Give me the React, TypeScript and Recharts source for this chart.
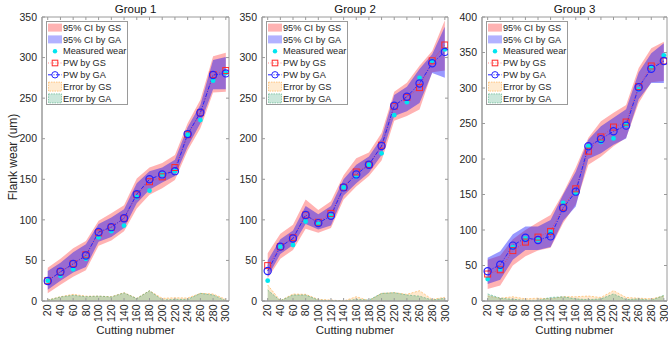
import React from 'react';
import { ComposedChart, Area, Line, XAxis, YAxis, Legend, ReferenceArea } from 'recharts';

const cuttingNumber = [20, 40, 60, 80, 100, 120, 140, 160, 180, 200, 220, 240, 260, 280, 300];
const yTicksG12 = [0, 50, 100, 150, 200, 250, 300, 350];
const yTicksG3 = [0, 50, 100, 150, 200, 250, 300, 350, 400];
const groupTitles = ['Group 1', 'Group 2', 'Group 3'];
const legendLabels = ['95% CI by GS', '95% CI by GA', 'Measured wear', 'PW by GS', 'PW by GA', 'Error by GS', 'Error by GA'];

// Group 1
const g1Measured = [25, 31, 39, 52, 78.5, 86, 93, 128, 136, 156, 160, 205, 223, 271.5, 281];
const g1PwGS = [25, 36, 46, 57, 84, 91, 102, 131, 147, 153, 164.5, 205, 232, 279, 284];
const g1PwGA = [24.7, 36, 45.7, 56, 85, 91, 102, 131.6, 150, 156, 160, 205.7, 232, 278.5, 280.5];
const g1CiGSUpper = [41, 52, 65, 74, 99, 108, 118, 151, 164.5, 170, 180, 219, 248, 301.5, 306];
const g1CiGSLower = [9.5, 20, 30, 38, 68, 74.5, 86, 114, 131, 139, 149, 185.5, 213, 257, 258];
const g1CiGAUpper = [37, 47, 60, 70, 95, 103, 113, 145, 160, 164.5, 174, 214, 242, 297, 300.7];
const g1CiGALower = [14, 25, 35, 42, 73, 79, 90, 120.5, 137, 146, 154, 190, 219, 261, 261];
const g1ErrGS = [1.2, 5.3, 8.2, 6, 6, 5.3, 10.3, 3.3, 12.7, 3.3, 4, 3.7, 9.4, 8.6, 2];
const g1ErrGA = [1, 5, 7, 5.3, 6, 5, 10, 3, 12.7, 1.2, 2, 2, 9.4, 7.4, 0.4];

// Group 2
const g2Measured = [25, 67, 69, 98, 95, 105, 140, 153, 168, 182, 229, 245, 275, 296, 310];
const g2PwGS = [43.6, 67, 78, 106, 97, 108, 140, 159, 168, 192, 240, 251, 263, 296, 315.5];
const g2PwGA = [37, 67, 77, 106, 96, 105, 140, 156, 168, 191, 240.7, 251.8, 268, 293, 307];
const g2CiGSUpper = [59, 83, 94, 125, 112, 123, 155, 176, 183, 207, 258, 269, 290, 308, 346];
const g2CiGSLower = [28, 52, 63, 89, 84, 90, 125, 141, 154, 173, 222, 228, 236, 282, 284];
const g2CiGAUpper = [50, 76, 87, 117, 107, 117, 150, 168, 178, 201, 254, 264, 286, 304, 338];
const g2CiGALower = [30, 58, 69, 95, 88, 93, 130, 145, 158, 180, 228, 234, 244, 281, 275];
const g2ErrGS = [19.7, 0.4, 8.6, 8.2, 2, 1.2, 0, 5.3, 0.4, 9.4, 10.3, 8.2, 12.7, 2, 4.5];
const g2ErrGA = [13.5, 0.4, 7.4, 7.4, 1.2, 0.4, 0, 2, 1.2, 9.4, 10.3, 7.4, 6, 1.2, 3.3];

// Group 3
const g3Measured = [31, 45, 76, 88, 86, 97, 138, 152, 218, 224, 229, 248, 298, 328, 346];
const g3PwGS = [38, 44, 71, 83, 90, 98, 132, 158, 211, 231, 245, 252, 302, 331, 338];
const g3PwGA = [42, 51, 78, 89, 86, 91, 131, 154, 218, 228, 239, 247, 301, 327, 338];
const g3CiGSUpper = [58, 64, 87, 100, 111, 121, 152, 188, 230, 253, 265, 276, 328, 356, 365];
const g3CiGSLower = [17, 22, 50, 63, 71, 75, 110, 136, 192, 203, 218, 230, 279, 308, 310];
const g3CiGAUpper = [61, 70, 94, 105, 105, 114, 150, 182, 227, 246, 258, 270, 322, 349, 363];
const g3CiGALower = [24, 30, 58, 72, 72, 76, 113, 133, 200, 208, 220, 229, 284, 307, 307];
const g3ErrGS = [7, 4, 6, 3, 4, 3, 6, 6, 7, 5, 14.6, 5, 4, 3, 7];
const g3ErrGA = [10, 4, 2.4, 1, 1, 5, 6, 3, 2, 3, 10, 2, 3, 1, 8];

const FONT = '"Liberation Sans", Arial, Helvetica, sans-serif';
const AXIS = '#9a9a9a';
const TEXT = '#262626';

const C_GS_CI = '#ff0000';
const C_GA_CI = '#0000ff';
const C_ERR_GS = '#ff9a1f';
const C_ERR_GA = '#2e9e6e';
const C_MEAS = '#00e6f0';
const C_PW_GS = '#ff2a2a';
const C_PW_GA = '#2424ff';

const PLOT_TOP = 17;
const PLOT_BOTTOM = 301;
const PLOT_LEFT = 42;
const CHART_H = 341;
const X_DOMAIN: [number, number] = [11, 305];

function buildRows(meas, pwGS, pwGA, gsU, gsL, gaU, gaL, eGS, eGA) {
  return cuttingNumber.map((c, i) => ({
    cut: c,
    ciGS: [gsL[i], gsU[i]],
    ciGA: [gaL[i], gaU[i]],
    measured: meas[i],
    pwGS: pwGS[i],
    pwGA: pwGA[i],
    errGS: eGS[i],
    errGA: eGA[i],
  }));
}

const panels = [
  {
    title: groupTitles[0], offset: 0, plotW: 187, yMax: 350, yTicks: yTicksG12, showYLabel: true,
    rows: buildRows(g1Measured, g1PwGS, g1PwGA, g1CiGSUpper, g1CiGSLower, g1CiGAUpper, g1CiGALower, g1ErrGS, g1ErrGA),
  },
  {
    title: groupTitles[1], offset: 220, plotW: 186, yMax: 350, yTicks: yTicksG12, showYLabel: false,
    rows: buildRows(g2Measured, g2PwGS, g2PwGA, g2CiGSUpper, g2CiGSLower, g2CiGAUpper, g2CiGALower, g2ErrGS, g2ErrGA),
  },
  {
    title: groupTitles[2], offset: 440, plotW: 185, yMax: 400, yTicks: yTicksG3, showYLabel: false,
    rows: buildRows(g3Measured, g3PwGS, g3PwGA, g3CiGSUpper, g3CiGSLower, g3CiGAUpper, g3CiGALower, g3ErrGS, g3ErrGA),
  },
];

function LegendBox() {
  const w = 82;
  const h = 84;
  const rowY = (i: number) => 6.6 + i * 11.8;
  const ix0 = 2;
  const ix1 = 16;
  const icx = (ix0 + ix1) / 2;
  return (
    <svg width={w} height={h} style={{ display: 'block', overflow: 'visible' }}>
      <rect x={0.5} y={0.5} width={w - 1} height={h - 1} fill="#ffffff" stroke={AXIS} strokeWidth={1} />
      <rect x={ix0} y={rowY(0) - 4} width={ix1 - ix0} height={8} fill={C_GS_CI} fillOpacity={0.3} />
      <rect x={ix0} y={rowY(1) - 4} width={ix1 - ix0} height={8} fill={C_GA_CI} fillOpacity={0.3} />
      <circle cx={icx} cy={rowY(2)} r={2.2} fill={C_MEAS} />
      <line x1={ix0} x2={ix1} y1={rowY(3)} y2={rowY(3)} stroke={C_PW_GS} strokeOpacity={0.55} strokeDasharray="1 1.5" />
      <rect x={icx - 2.8} y={rowY(3) - 2.8} width={5.6} height={5.6} fill="none" stroke={C_PW_GS} strokeWidth={1} />
      <line x1={ix0} x2={ix1} y1={rowY(4)} y2={rowY(4)} stroke={C_PW_GA} strokeDasharray="4 1.5 1 1.5" />
      <circle cx={icx} cy={rowY(4)} r={3.2} fill="none" stroke={C_PW_GA} strokeWidth={1} />
      <rect x={ix0 + 0.5} y={rowY(5) - 4.5} width={ix1 - ix0 - 1} height={9} fill={C_ERR_GS} fillOpacity={0.2} stroke={C_ERR_GS} strokeOpacity={0.7} strokeWidth={0.7} strokeDasharray="1.5 1" />
      <rect x={ix0 + 0.5} y={rowY(6) - 4.5} width={ix1 - ix0 - 1} height={9} fill={C_ERR_GA} fillOpacity={0.25} stroke={C_ERR_GA} strokeOpacity={0.7} strokeWidth={0.7} strokeDasharray="1.5 1" />
      {legendLabels.map((t, i) => (
        <text key={t} x={17} y={rowY(i)} dy="0.35em" fontSize={9.2} fontWeight={400} fontFamily={FONT} fill={TEXT}>
          {t}
        </text>
      ))}
    </svg>
  );
}

function Panel({ p }) {
  const plotRight = PLOT_LEFT + p.plotW;
  const chartW = plotRight + 3;
  const centerX = PLOT_LEFT + p.plotW / 2;

  const yTick = (props) => {
    const y = props.y;
    return (
      <g>
        <line x1={PLOT_LEFT} x2={PLOT_LEFT + 3} y1={y} y2={y} stroke={AXIS} />
        <line x1={plotRight - 3} x2={plotRight} y1={y} y2={y} stroke={AXIS} />
        <text x={PLOT_LEFT - 5} y={y} dy="0.35em" textAnchor="end" fontSize={10.5} fontWeight={400} fontFamily={FONT} fill={TEXT}>
          {props.payload.value}
        </text>
      </g>
    );
  };

  const xTick = (props) => {
    const x = props.x;
    const ty = PLOT_BOTTOM + 3.5;
    return (
      <g>
        <line x1={x} x2={x} y1={PLOT_BOTTOM} y2={PLOT_BOTTOM - 3} stroke={AXIS} />
        <line x1={x} x2={x} y1={PLOT_TOP} y2={PLOT_TOP + 3} stroke={AXIS} />
        <text x={x} y={ty} dy="0.35em" textAnchor="end" transform={`rotate(-90 ${x} ${ty})`} fontSize={10.5} fontWeight={400} fontFamily={FONT} fill={TEXT}>
          {props.payload.value}
        </text>
      </g>
    );
  };

  const squareDot = (props) => {
    const { cx, cy, index } = props;
    if (cx == null || cy == null) return <g key={`sq-${index}`} />;
    return <rect key={`sq-${index}`} x={cx - 3} y={cy - 3} width={6} height={6} fill="none" stroke={C_PW_GS} strokeWidth={1} />;
  };
  const circleDot = (props) => {
    const { cx, cy, index } = props;
    if (cx == null || cy == null) return <g key={`ci-${index}`} />;
    return <circle key={`ci-${index}`} cx={cx} cy={cy} r={3.6} fill="none" stroke={C_PW_GA} strokeWidth={1.2} />;
  };
  const measDot = (props) => {
    const { cx, cy, index } = props;
    if (cx == null || cy == null) return <g key={`m-${index}`} />;
    return <circle key={`m-${index}`} cx={cx} cy={cy} r={2.4} fill={C_MEAS} stroke="none" />;
  };

  return (
    <div style={{ position: 'absolute', left: p.offset, top: 0, width: chartW, height: CHART_H }}>
      <ComposedChart
        width={chartW}
        height={CHART_H}
        data={p.rows}
        margin={{ top: PLOT_TOP, right: 3, bottom: 10, left: 12 }}
      >
        <XAxis
          dataKey="cut"
          type="number"
          domain={X_DOMAIN}
          ticks={cuttingNumber}
          interval={0}
          tickLine={false}
          axisLine={{ stroke: AXIS }}
          height={30}
          tick={xTick}
          allowDataOverflow
          label={{
            content: () => (
              <text x={centerX} y={330} dy="0.35em" textAnchor="middle" fontSize={11.5} fontWeight={400} fontFamily={FONT} fill={TEXT}>
                Cutting nubmer
              </text>
            ),
          }}
        />
        <YAxis
          type="number"
          domain={[0, p.yMax]}
          ticks={p.yTicks}
          interval={0}
          width={30}
          tickLine={false}
          axisLine={{ stroke: AXIS }}
          tick={yTick}
          allowDataOverflow
          label={{
            content: () => (
              <g>
                <text x={centerX} y={8.5} dy="0.35em" textAnchor="middle" fontSize={11.5} fontWeight={400} fontFamily={FONT} fill="#111">
                  {p.title}
                </text>
                {p.showYLabel ? (
                  <text x={13} y={157} dy="0.35em" textAnchor="middle" transform="rotate(-90 13 157)" fontSize={12} fontWeight={400} fontFamily={FONT} fill={TEXT}>
                    Flank wear (um)
                  </text>
                ) : null}
              </g>
            ),
          }}
        />
        <Area dataKey="ciGS" type="linear" fill={C_GS_CI} fillOpacity={0.3} stroke="none" isAnimationActive={false} dot={false} activeDot={false} />
        <Area dataKey="ciGA" type="linear" fill={C_GA_CI} fillOpacity={0.4} stroke="none" isAnimationActive={false} dot={false} activeDot={false} />
        <Area dataKey="errGS" type="linear" fill={C_ERR_GS} fillOpacity={0.22} stroke={C_ERR_GS} strokeOpacity={0.6} strokeWidth={0.8} strokeDasharray="2 1.5" isAnimationActive={false} dot={false} activeDot={false} />
        <Area dataKey="errGA" type="linear" fill={C_ERR_GA} fillOpacity={0.28} stroke={C_ERR_GA} strokeOpacity={0.6} strokeWidth={0.8} strokeDasharray="2 1.5" isAnimationActive={false} dot={false} activeDot={false} />
        <Line dataKey="measured" type="linear" stroke="none" dot={measDot} activeDot={false} isAnimationActive={false} />
        <Line dataKey="pwGS" type="linear" stroke={C_PW_GS} strokeOpacity={0.55} strokeWidth={1} strokeDasharray="1 1.5" dot={squareDot} activeDot={false} isAnimationActive={false} />
        <Line dataKey="pwGA" type="linear" stroke={C_PW_GA} strokeWidth={1} strokeDasharray="4 1.5 1 1.5" dot={circleDot} activeDot={false} isAnimationActive={false} />
        <ReferenceArea
          x1={X_DOMAIN[0]}
          x2={X_DOMAIN[1]}
          y1={0}
          y2={p.yMax}
          fill="none"
          fillOpacity={0}
          stroke={AXIS}
          strokeWidth={1}
          ifOverflow="visible"
        />
        <Legend
          layout="horizontal"
          verticalAlign="middle"
          align="center"
          content={() => <LegendBox />}
          wrapperStyle={{ position: 'absolute', left: PLOT_LEFT + 4, top: 21, width: 82, height: 84, margin: 0, padding: 0 }}
        />
      </ComposedChart>
    </div>
  );
}

export default function App() {
  return (
    <div style={{ position: 'absolute', left: 0, top: 0, width: 668, height: 341, overflow: 'hidden', background: '#fff' }}>
      {panels.map((p) => (
        <Panel key={p.title} p={p} />
      ))}
    </div>
  );
}
